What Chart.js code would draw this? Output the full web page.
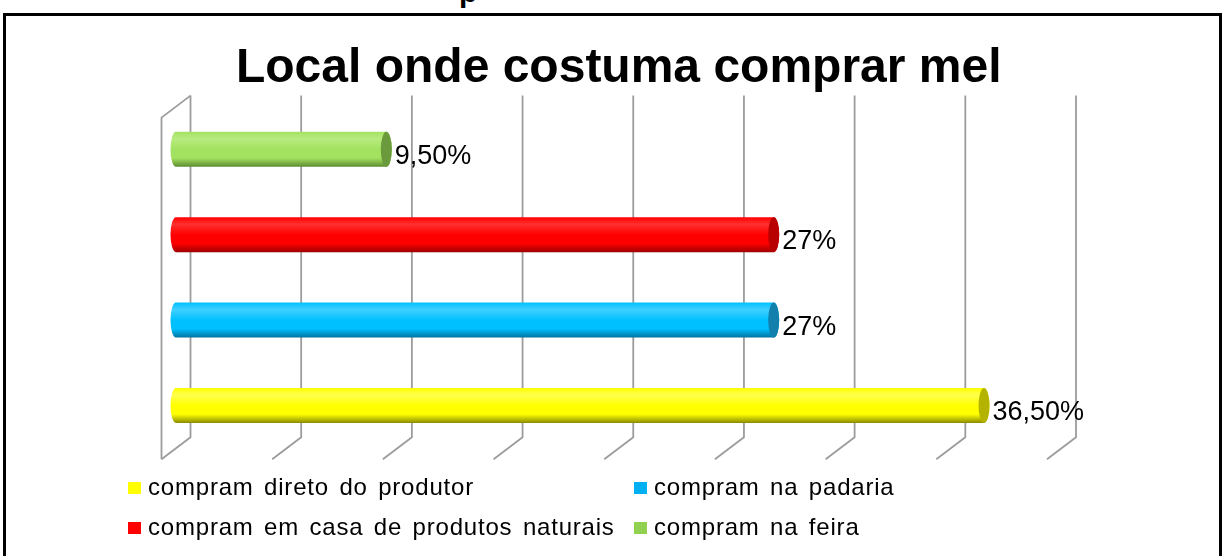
<!DOCTYPE html>
<html>
<head>
<meta charset="utf-8">
<script src="https://cdn.jsdelivr.net/npm/chart.js@4/dist/chart.umd.min.js"></script>
<style>
  html, body { margin: 0; padding: 0; background: #fff; }
  #wrap { position: relative; width: 1225px; height: 556px; overflow: hidden; background: #fff; }
  #frame { position: absolute; left: 3px; top: 13px; width: 1213px; height: 600px; border: 3px solid #000; }
  #cut { position: absolute; left: 459px; top: -23px; font: bold 30px "Liberation Sans", Arial, sans-serif; line-height: 30px; color: #000; }
  canvas { position: absolute; left: 0; top: 0; }
  .leg { position: absolute; font: 24px "Liberation Sans", Arial, sans-serif; line-height: 24px; letter-spacing: 0.8px; word-spacing: 3px; color: #000; white-space: nowrap; }
  .leg i { position: absolute; left: -20px; top: 7px; width: 13px; height: 12px; }
</style>
</head>
<body>
<div id="wrap">
  <div id="cut">p</div>
  <div id="frame"></div>
  <canvas id="chart" width="1225" height="556"></canvas>
  <div id="legend"></div>
</div>
<script>
const categories = [
  'compram direto do produtor',
  'compram na padaria',
  'compram em casa de produtos naturais',
  'compram na feira',
];
const percentValues = [36.5, 27, 27, 9.5];
const xTicks = [0, 5, 10, 15, 20, 25, 30, 35, 40];

// body / light / dark / cap colours for each cylinder
const barColors = [
  { base: '#ffff00', light: '#ffff4d', dark: '#8a8a00', cap: '#b4b400', legend: '#ffff00' },
  { base: '#00c0ff', light: '#40d0ff', dark: '#00719e', cap: '#137fac', legend: '#00b0f0' },
  { base: '#ff0000', light: '#ff3030', dark: '#9c0000', cap: '#b80000', legend: '#ff0000' },
  { base: '#a3e160', light: '#b8ec80', dark: '#5d8c30', cap: '#6a9a3c', legend: '#92d050' },
];

const DEPTH_X = 14.5;
const DEPTH_Y = 11;

function formatPct(v) {
  return Number.isInteger(v) ? `${v}%` : `${v.toFixed(2).replace('.', ',')}%`;
}

const gridPlugin = {
  id: 'grid3d',
  beforeDatasetsDraw(chart) {
    const { ctx, chartArea, scales } = chart;
    const { top, bottom } = chartArea;
    ctx.save();
    ctx.strokeStyle = '#9c9c9c';
    ctx.lineWidth = 1.8;
    xTicks.forEach((v) => {
      const x = scales.x.getPixelForValue(v);
      ctx.beginPath();
      ctx.moveTo(x + DEPTH_X, top - DEPTH_Y);
      ctx.lineTo(x + DEPTH_X, bottom - DEPTH_Y);
      ctx.lineTo(x - DEPTH_X, bottom + DEPTH_Y);
      ctx.stroke();
    });
    // side wall on the left
    const x0 = scales.x.getPixelForValue(0);
    ctx.beginPath();
    ctx.moveTo(x0 + DEPTH_X, top - DEPTH_Y);
    ctx.lineTo(x0 - DEPTH_X, top + DEPTH_Y);
    ctx.lineTo(x0 - DEPTH_X, bottom + DEPTH_Y);
    ctx.stroke();
    ctx.restore();
  },
};

const cylinderPlugin = {
  id: 'cylinders',
  afterDatasetsDraw(chart) {
    const { ctx } = chart;
    const meta = chart.getDatasetMeta(0);
    const rx = 5.5;
    ctx.save();
    meta.data.forEach((bar, i) => {
      const c = barColors[i];
      const h = bar.height;
      const y0 = bar.y - h / 2;
      const y1 = bar.y + h / 2;
      const ry = h / 2;
      const grad = ctx.createLinearGradient(0, y0, 0, y1);
      grad.addColorStop(0, c.base);
      grad.addColorStop(0.2, c.light);
      grad.addColorStop(0.5, c.base);
      grad.addColorStop(0.75, c.base);
      grad.addColorStop(1, c.dark);

      ctx.beginPath();
      ctx.moveTo(bar.base, y0);
      ctx.lineTo(bar.x, y0);
      ctx.ellipse(bar.x, bar.y, rx, ry, 0, -Math.PI / 2, Math.PI / 2);
      ctx.lineTo(bar.base, y1);
      ctx.ellipse(bar.base, bar.y, rx, ry, 0, Math.PI / 2, Math.PI * 1.5);
      ctx.closePath();
      ctx.fillStyle = grad;
      ctx.fill();

      ctx.beginPath();
      ctx.ellipse(bar.x, bar.y, rx, ry, 0, 0, Math.PI * 2);
      ctx.fillStyle = c.cap;
      ctx.fill();

      ctx.fillStyle = '#000';
      ctx.font = '27px "Liberation Sans", Arial, sans-serif';
      ctx.textAlign = 'left';
      ctx.textBaseline = 'alphabetic';
      ctx.fillText(formatPct(percentValues[i]), bar.x + rx + 3, bar.y + 14.5);
    });
    ctx.restore();
  },
};

new Chart(document.getElementById('chart'), {
  type: 'bar',
  data: {
    labels: categories,
    datasets: [{
      data: percentValues,
      backgroundColor: 'rgba(0,0,0,0)',
      borderWidth: 0,
      barThickness: 35,
    }],
  },
  options: {
    indexAxis: 'y',
    responsive: false,
    animation: false,
    layout: { padding: { left: 176, right: 163.5, top: 0, bottom: 107.8 } },
    plugins: {
      legend: { display: false },
      tooltip: { enabled: false },
      title: {
        display: true,
        text: 'Local onde costuma comprar mel',
        color: '#000',
        font: { family: '"Liberation Sans", Arial, sans-serif', size: 48, weight: 'bold', lineHeight: 1.2 },
        padding: { top: 39.6, bottom: 9.4 },
      },
    },
    scales: {
      x: { display: false, min: 0, max: 40 },
      y: { display: false, reverse: true },
    },
  },
  plugins: [gridPlugin, cylinderPlugin],
});

// legend in two columns, Excel style
const legendPos = [
  { left: 148, top: 474.7 },
  { left: 654, top: 474.7 },
  { left: 148, top: 514.7 },
  { left: 654, top: 514.7 },
];
const legendEl = document.getElementById('legend');
categories.forEach((name, i) => {
  const item = document.createElement('div');
  item.className = 'leg';
  item.style.left = `${legendPos[i].left}px`;
  item.style.top = `${legendPos[i].top}px`;
  const sw = document.createElement('i');
  sw.style.background = barColors[i].legend;
  item.appendChild(sw);
  item.appendChild(document.createTextNode(name));
  legendEl.appendChild(item);
});
</script>
</body>
</html>
